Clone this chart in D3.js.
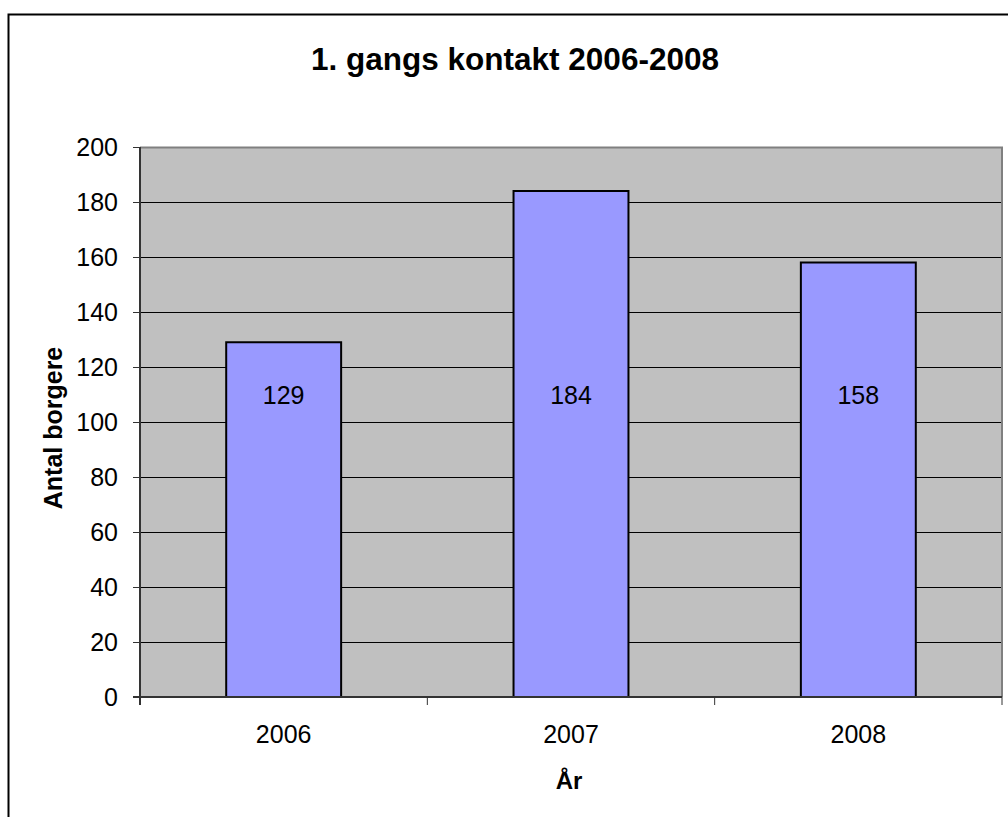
<!DOCTYPE html>
<html>
<head>
<meta charset="utf-8">
<script src="https://cdn.jsdelivr.net/npm/d3@7"></script>
<style>
  body { margin: 0; background: #fff; }
  svg { font-family: "Liberation Sans", Arial, sans-serif; }
</style>
</head>
<body>
<svg id="chart" width="1008" height="817"></svg>
<script>
  const years = ["2006", "2007", "2008"];
  const borgere = [129, 184, 158];
  const yTicks = [0, 20, 40, 60, 80, 100, 120, 140, 160, 180, 200];

  const svg = d3.select("#chart");
  const FONT = "Liberation Sans, Arial, sans-serif";

  // ydre ramme
  svg.append("rect")
    .attr("x", 8.5).attr("y", 14.5)
    .attr("width", 1010).attr("height", 820)
    .attr("fill", "#fff").attr("stroke", "#000").attr("stroke-width", 2);

  const plot = { left: 140, top: 147, right: 1002, bottom: 697 };

  const x = d3.scaleBand()
    .domain(years)
    .range([plot.left, plot.right])
    .paddingInner(0.6).paddingOuter(0.3);

  const y = d3.scaleLinear()
    .domain([0, 200])
    .range([plot.bottom, plot.top]);

  // plotområde
  svg.append("rect")
    .attr("x", plot.left).attr("y", plot.top)
    .attr("width", plot.right - plot.left).attr("height", plot.bottom - plot.top)
    .attr("fill", "#C0C0C0");

  // gitterlinjer
  svg.append("g")
    .selectAll("line")
    .data(yTicks.filter(t => t > 0 && t < 200))
    .join("line")
    .attr("x1", plot.left).attr("x2", plot.right)
    .attr("y1", d => Math.round(y(d)) + 0.5).attr("y2", d => Math.round(y(d)) + 0.5)
    .attr("stroke", "#000").attr("stroke-width", 1);

  // kant top / højre
  svg.append("path")
    .attr("d", `M${plot.left},${plot.top + 0.5}H${plot.right}V${plot.bottom}`)
    .attr("fill", "none").attr("stroke", "#808080").attr("stroke-width", 2);

  const rows = years.map((yr, i) => ({ yr, v: borgere[i] }));

  // søjler
  svg.append("g")
    .selectAll("rect")
    .data(rows)
    .join("rect")
    .attr("x", d => x(d.yr))
    .attr("y", d => y(d.v))
    .attr("width", x.bandwidth())
    .attr("height", d => y(0) - y(d.v))
    .attr("fill", "#9999FF")
    .attr("stroke", "#000").attr("stroke-width", 2);

  // værdi-etiketter
  svg.append("g")
    .selectAll("text")
    .data(rows)
    .join("text")
    .attr("x", d => x(d.yr) + x.bandwidth() / 2)
    .attr("y", y(106.5))
    .attr("text-anchor", "middle")
    .attr("font-size", 25)
    .text(d => d.v);

  // y-akse
  const yAxis = d3.axisLeft(y).tickValues(yTicks).tickSize(7).tickPadding(15);
  const gy = svg.append("g")
    .attr("transform", `translate(${plot.left},0)`)
    .call(yAxis);
  gy.select(".domain").attr("stroke", "#333").attr("stroke-width", 2)
    .attr("d", `M0,${plot.top}V${plot.bottom + 8}`);
  gy.selectAll(".tick line").attr("stroke", "#333");
  gy.selectAll("text").attr("font-size", 25).attr("font-family", FONT).attr("fill", "#000");

  // x-akse
  const gx = svg.append("g")
    .attr("transform", `translate(0,${plot.bottom})`);
  gx.append("line")
    .attr("x1", plot.left - 7).attr("x2", plot.right)
    .attr("stroke", "#333").attr("stroke-width", 2);
  const bounds = d3.range(years.length + 1).map(i => plot.left + i * (plot.right - plot.left) / years.length);
  gx.selectAll("line.tk")
    .data(bounds)
    .join("line").attr("class", "tk")
    .attr("x1", d => d).attr("x2", d => d)
    .attr("y1", 0).attr("y2", 8)
    .attr("stroke", "#333").attr("stroke-width", 1);
  gx.selectAll("text")
    .data(years)
    .join("text")
    .attr("x", d => x(d) + x.bandwidth() / 2)
    .attr("y", 46)
    .attr("text-anchor", "middle")
    .attr("font-size", 25)
    .text(d => d);

  // titler
  svg.append("text")
    .attr("x", 515).attr("y", 70)
    .attr("text-anchor", "middle")
    .attr("font-size", 31.5).attr("font-weight", "bold")
    .text("1. gangs kontakt 2006-2008");

  svg.append("text")
    .attr("x", 569).attr("y", 789)
    .attr("text-anchor", "middle")
    .attr("font-size", 24).attr("font-weight", "bold")
    .text("År");

  svg.append("text")
    .attr("transform", `translate(62,428) rotate(-90)`)
    .attr("text-anchor", "middle")
    .attr("font-size", 25).attr("font-weight", "bold")
    .text("Antal borgere");
</script>
</body>
</html>
